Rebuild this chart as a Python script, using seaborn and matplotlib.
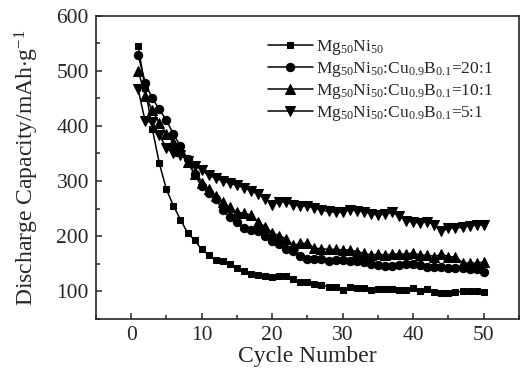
import numpy as np
import pandas as pd
import matplotlib
matplotlib.use("Agg")
import matplotlib.pyplot as plt
import seaborn as sns
from matplotlib.ticker import MultipleLocator

# datos
cycles = list(range(1, 51))

mg50ni50 = [544, 468, 395, 332, 285, 255, 230, 206, 193, 176,
            166, 156, 155, 150, 142, 136, 132, 130, 128, 125,
            128, 127, 122, 117, 116, 113, 111, 108, 108, 102,
            107, 106, 106, 103, 104, 104, 104, 103, 102, 106,
            101, 104, 98, 97, 97, 99, 100, 100, 100, 99]

ratio_20_1 = [528, 478, 450, 430, 410, 385, 363, 340, 312, 290,
              279, 267, 247, 235, 225, 215, 211, 209, 201, 191,
              185, 176, 173, 164, 159, 158, 158, 155, 157, 156,
              155, 155, 153, 150, 148, 146, 146, 147, 149, 149,
              148, 144, 144, 144, 143, 142, 142, 141, 140, 135]

ratio_10_1 = [500, 455, 428, 405, 385, 370, 354, 334, 312, 297,
              285, 273, 262, 252, 243, 242, 238, 226, 217, 206,
              201, 195, 183, 187, 187, 178, 177, 176, 176, 175,
              175, 172, 169, 166, 167, 166, 167, 168, 167, 170,
              165, 166, 163, 167, 163, 162, 152, 151, 151, 153]

ratio_5_1 = [466, 408, 407, 383, 360, 350, 347, 337, 328, 320,
             310, 305, 300, 296, 292, 288, 282, 276, 268, 257,
             262, 262, 256, 255, 254, 251, 247, 245, 243, 243,
             248, 246, 244, 241, 238, 240, 243, 236, 228, 225,
             224, 226, 221, 209, 214, 215, 216, 219, 220, 220]

labels = [
    r"$\mathrm{Mg_{50}Ni_{50}}$",
    r"$\mathrm{Mg_{50}Ni_{50}}$:$\mathrm{Cu_{0.9}B_{0.1}}$=20:1",
    r"$\mathrm{Mg_{50}Ni_{50}}$:$\mathrm{Cu_{0.9}B_{0.1}}$=10:1",
    r"$\mathrm{Mg_{50}Ni_{50}}$:$\mathrm{Cu_{0.9}B_{0.1}}$=5:1",
]
series = [mg50ni50, ratio_20_1, ratio_10_1, ratio_5_1]
markers = ["s", "o", "^", "v"]
msizes = [5, 6, 6.5, 6.5]

sns.set_style("ticks")
plt.rcParams["font.family"] = ["Liberation Serif", "DejaVu Serif"]
plt.rcParams["mathtext.fontset"] = "custom"
plt.rcParams["mathtext.rm"] = "Liberation Serif"
plt.rcParams["mathtext.it"] = "Liberation Serif:italic"

fig = plt.figure(figsize=(5.21, 3.80), dpi=100)
ax = fig.add_axes([0.184, 0.161, 0.812, 0.798])

for vals, lab, mk, ms in zip(series, labels, markers, msizes):
    df = pd.DataFrame({"cycle": cycles, "cap": vals})
    sns.lineplot(data=df, x="cycle", y="cap", ax=ax, color="black",
                 marker=mk, markersize=ms, markeredgecolor="black",
                 linewidth=1.1, label=lab)

ax.set_xlim(-5, 55)
ax.set_ylim(50, 600)
ax.xaxis.set_major_locator(MultipleLocator(10))
ax.xaxis.set_minor_locator(MultipleLocator(5))
ax.yaxis.set_major_locator(MultipleLocator(100))
ax.yaxis.set_minor_locator(MultipleLocator(50))
ax.tick_params(which="both", direction="in", top=False, right=False,
               width=1.1, labelsize=15.5, pad=5)
ax.tick_params(which="major", length=4.5)
ax.tick_params(which="minor", length=3)
for sp in ax.spines.values():
    sp.set_linewidth(1.2)
    sp.set_visible(True)

ax.set_xlabel("Cycle Number", fontsize=17, labelpad=1)
ax.set_ylabel(r"Discharge Capacity/mAh$\cdot$g$^{\mathrm{-1}}$", fontsize=17, labelpad=11)

leg = ax.legend(loc="upper left", bbox_to_anchor=(0.497, 0.922),
                bbox_transform=fig.transFigure, frameon=False, fontsize=12.5,
                borderpad=0, handlelength=2.6, handletextpad=0.2,
                labelspacing=0.16)

fig.savefig("out.png", dpi=100)
